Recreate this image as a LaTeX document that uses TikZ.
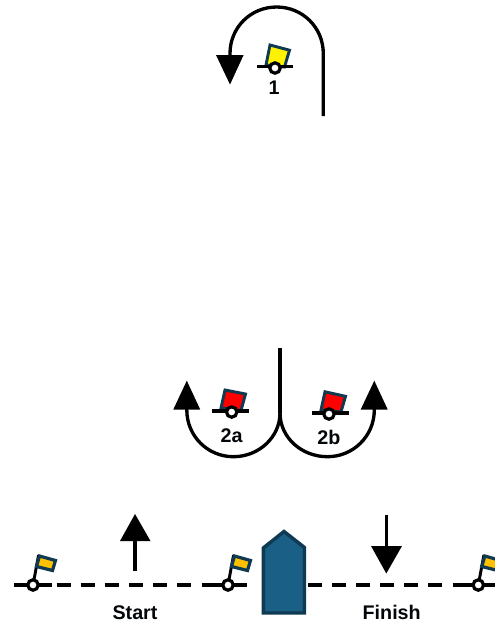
\documentclass[tikz,border=0pt]{standalone}
\usepackage{fontspec}
\setmainfont{Liberation Sans}
\usetikzlibrary{calc}
\definecolor{navy}{HTML}{0F3A52}
\definecolor{hullblue}{HTML}{1A5F85}
\definecolor{flagorange}{HTML}{FFC000}
\tikzset{
  x=0.75pt,y=-0.75pt,
  course/.style={line width=2.5pt,black},
  head/.style={fill=black,draw=none},
  buoyline/.style={line width=2.5pt,black},
  dashline/.style={line width=2.5pt,black},
  buoy/.style={circle,draw=black,fill=white,line width=2.4pt,minimum size=7.8pt,inner sep=0pt},
  flagbox/.style={draw=navy,line width=2.2pt,line join=miter},
  lbl/.style={font=\bfseries\fontsize{14.8pt}{16pt}\selectfont,inner sep=0pt,text=black!90!navy},
}
\begin{document}
\begin{tikzpicture}
\useasboundingbox (0,0) rectangle (495,622);
\clip (0,0) rectangle (495,622);
% top course
\coordinate (t0) at (323.3,116);
\coordinate (t1) at (323.3,53.5);
\coordinate (t2) at (230,56);
\draw[course] (t0) -- (t1) .. controls (323.3,27.5) and (302.5,7) .. (276.6,7) .. controls (250.7,7) and (230,27.5) .. (230,53.5) -- (t2);
\fill[head] (216,55) -- (243.6,55) -- (230,84.5) -- cycle;
% boat 1
\draw[flagbox,fill=yellow] (270,45) -- (289.5,50.2) -- (284.5,67) -- (266,65) -- cycle;
\coordinate (b1l) at (257,66.7); \coordinate (b1r) at (293,66.7);
\draw[buoyline] (b1l) -- (b1r);
\node[buoy] (b1) at (275,68) {};
\node[lbl] (l1) at (274,88) {1};
% 2a / 2b courses
\coordinate (m0) at (280,348);
\coordinate (m1) at (280,413);
\draw[course] (m0) -- (m1);
\draw[course] (m1) .. controls (280,437) and (259,456.7) .. (233.4,456.7) .. controls (207.6,456.7) and (186.8,436) .. (186.8,410) -- (186.8,405);
\draw[course] (m1) .. controls (280,437) and (301,456.7) .. (327.5,456.7) .. controls (353.3,456.7) and (374.3,436) .. (374.3,410) -- (374.3,405);
\fill[head] (173.3,409.5) -- (200.2,409.5) -- (186.8,380.7) -- cycle;
\fill[head] (360.7,409.5) -- (387.7,409.5) -- (374.3,380.7) -- cycle;
% boat 2a
\draw[flagbox,fill=red] (225,390) -- (245.5,394) -- (241,410.5) -- (221,408) -- cycle;
\coordinate (a1) at (212,411); \coordinate (a2) at (249,411);
\draw[buoyline] (a1) -- (a2);
\node[buoy] (ba) at (231.7,412) {};
\node[lbl] (l2a) at (231.7,436) {2a};
% boat 2b
\draw[flagbox,fill=red] (325,391.8) -- (345.5,396.3) -- (341,412) -- (321,410) -- cycle;
\coordinate (c1) at (312,413); \coordinate (c2) at (349,413);
\draw[buoyline] (c1) -- (c2);
\node[buoy] (bb) at (329,414) {};
\node[lbl] (l2b) at (329,437) {2b};
% line
\draw[dashline] (14,585) -- (52,585);
\foreach \k in {0,...,5} \draw[dashline] (56.7+24.1*\k,585) -- (70.7+24.1*\k,585);
\draw[dashline] (201.7,585) -- (247,585);
\foreach \k in {0,...,5} \draw[dashline] (308.3+24*\k,585) -- (322.3+24*\k,585);
\draw[dashline] (452.7,585) -- (495,585);
% flags
\foreach \n/\dx in {f1/0,f2/195,f3/445.3}{
  \begin{scope}[shift={(\dx,0)}]
  \coordinate (\n top) at (38.6,555);
  \draw[buoyline,line width=2.2pt] (33,585) -- (\n top);
  \draw[flagbox,fill=flagorange,line width=2.4pt] (39.5,556) -- (55.5,560.5) -- (52.5,570.5) -- (36.5,566.5) -- cycle;
  \node[buoy] (\n) at (33,585) {};
  \end{scope}
}
% arrows
\coordinate (s0) at (135,571); \coordinate (s1) at (135,538);
\draw[course] (s0) -- (s1);
\fill[head] (120,541) -- (150.5,541) -- (135,514) -- cycle;
\coordinate (e0) at (386.3,515); \coordinate (e1) at (386.3,548);
\draw[course] (e0) -- (e1);
\fill[head] (371,546) -- (402,546) -- (386.3,573.5) -- cycle;
% hull
\draw[draw=navy,fill=hullblue,line width=2.6pt,line join=miter] (263.3,548) -- (284,531.5) -- (304.5,547.5) -- (304.5,613) -- (263.3,613) -- cycle;
% labels
\node[lbl] (start) at (135,612.5) {Start};
\node[lbl] (finish) at (391.7,612.5) {Finish};
\end{tikzpicture}
\end{document}
